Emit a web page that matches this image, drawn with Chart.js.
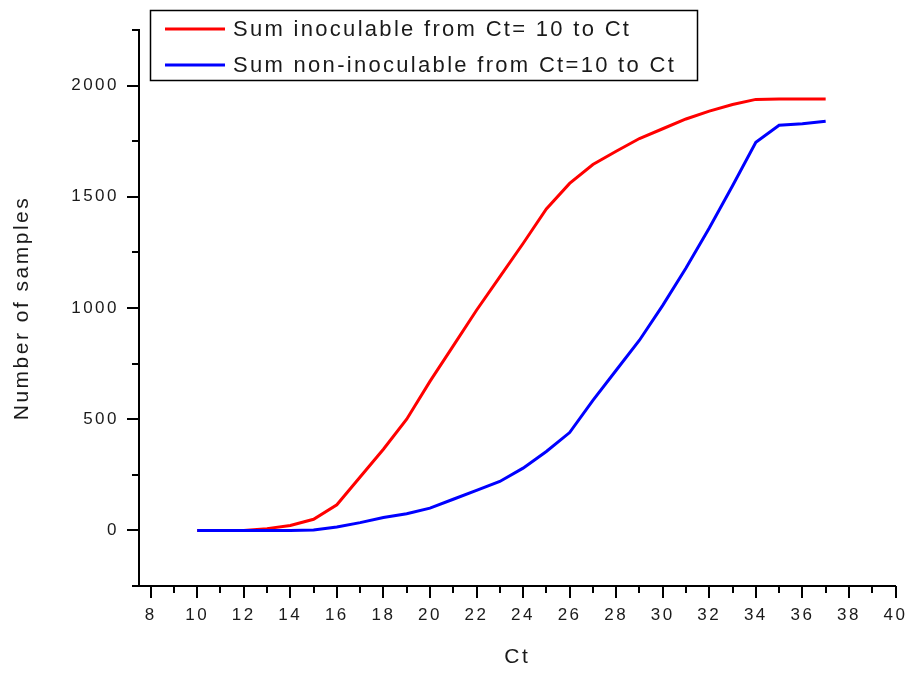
<!DOCTYPE html>
<html>
<head>
<meta charset="utf-8">
<script src="https://cdn.jsdelivr.net/npm/chart.js@4.4.1/dist/chart.umd.min.js"></script>
<style>
  html, body { margin: 0; padding: 0; background: #fff; }
  canvas { display: block; }
</style>
</head>
<body>
<canvas id="c" width="905" height="673"></canvas>
<script>
// ---- data ----
const ct = [10,11,12,13,14,15,16,17,18,19,20,21,22,23,24,25,26,27,28,29,30,31,32,33,34,35,36,37];
const inoculable = [0,0,0,8,22,50,115,240,365,500,670,830,990,1140,1290,1445,1560,1645,1705,1762,1806,1850,1885,1915,1938,1940,1940,1940];
const nonInoculable = [0,0,0,0,0,2,15,35,58,75,100,140,180,220,280,355,440,585,720,855,1012,1180,1360,1550,1745,1822,1828,1840];
const seriesLabels = ['Sum inoculable from Ct= 10 to Ct', 'Sum non-inoculable from Ct=10 to Ct'];
const seriesColors = ['#ff0000', '#0000ff'];
const xTitle = 'Ct';
const yTitle = 'Number of samples';

const FONT = '"Liberation Sans", Arial, sans-serif';
const TEXT = '#1a1a1a';

function toXY(xs, ys) { return xs.map((x, i) => ({ x: x, y: ys[i] })); }

const spacingPlugin = {
  id: 'spacing',
  beforeLayout(chart) { chart.ctx.letterSpacing = '2.5px'; },
  beforeDraw(chart) { chart.ctx.letterSpacing = '2.5px'; }
};

const tickPlugin = {
  id: 'ticksMarks',
  afterDraw(chart) {
    const ctx = chart.ctx;
    const xs = chart.scales.x, ys = chart.scales.y;
    const ca = chart.chartArea;
    ctx.save();
    ctx.strokeStyle = '#000';
    ctx.lineWidth = 2;
    ctx.beginPath();
    xs.ticks.forEach(t => {
      const px = Math.round(xs.getPixelForValue(t.value));
      const major = t.value % 2 === 0;
      ctx.moveTo(px, ca.bottom);
      ctx.lineTo(px, ca.bottom + (major ? 12 : 7));
    });
    ys.ticks.forEach(t => {
      const py = Math.round(ys.getPixelForValue(t.value));
      const major = t.value % 500 === 0;
      ctx.moveTo(ca.left, py);
      ctx.lineTo(ca.left - (major ? 12 : 7), py);
    });
    ctx.stroke();
    ctx.restore();
  }
};

const legendPlugin = {
  id: 'boxLegend',
  afterDraw(chart) {
    const ctx = chart.ctx;
    const bx = 150.5, by = 10.5, bw = 547, bh = 70;
    ctx.save();
    ctx.letterSpacing = '2.3px';
    ctx.fillStyle = '#fff';
    ctx.fillRect(bx, by, bw, bh);
    ctx.strokeStyle = '#000';
    ctx.lineWidth = 1.5;
    ctx.strokeRect(bx, by, bw, bh);
    const rows = [29, 65];
    chart.data.datasets.forEach((ds, i) => {
      const y = rows[i];
      ctx.strokeStyle = ds.borderColor;
      ctx.lineWidth = 3;
      ctx.beginPath();
      ctx.moveTo(165, y);
      ctx.lineTo(225, y);
      ctx.stroke();
      ctx.fillStyle = TEXT;
      ctx.font = '22px ' + FONT;
      ctx.textBaseline = 'middle';
      ctx.textAlign = 'left';
      ctx.fillText(ds.label, 233, y + 1);
    });
    ctx.restore();
  }
};

new Chart(document.getElementById('c'), {
  type: 'line',
  data: {
    datasets: [
      { label: seriesLabels[0], data: toXY(ct, inoculable), borderColor: seriesColors[0], backgroundColor: seriesColors[0],
        borderWidth: 3, pointRadius: 0, tension: 0, order: 1 },
      { label: seriesLabels[1], data: toXY(ct, nonInoculable), borderColor: seriesColors[1], backgroundColor: seriesColors[1],
        borderWidth: 3, pointRadius: 0, tension: 0, order: 0 }
    ]
  },
  options: {
    responsive: false,
    animation: false,
    devicePixelRatio: 1,
    layout: { padding: { left: 0, right: 9.5, top: 30, bottom: 0 } },
    plugins: { legend: { display: false }, tooltip: { enabled: false }, title: { display: false } },
    scales: {
      x: {
        type: 'linear',
        min: 7.5, max: 40,
        grid: { display: false, drawTicks: false },
        border: { display: true, color: '#000', width: 2 },
        ticks: {
          stepSize: 1, includeBounds: false, autoSkip: false, maxRotation: 0,
          padding: 19, color: TEXT, font: { family: FONT, size: 17 },
          callback: v => (v % 2 === 0 ? String(v) : '')
        },
        title: { display: true, text: xTitle, color: TEXT, font: { family: FONT, size: 21 }, padding: { top: 0, bottom: 3 } },
        afterFit: s => { s.height = 87; s.paddingLeft = 0; s.paddingRight = 0; }
      },
      y: {
        type: 'linear',
        min: -250, max: 2250,
        grid: { display: false, drawTicks: false },
        border: { display: true, color: '#000', width: 2 },
        ticks: {
          stepSize: 250, includeBounds: false, autoSkip: false,
          padding: 20, color: TEXT, font: { family: FONT, size: 17 },
          callback: v => (v % 500 === 0 ? String(v) : '')
        },
        title: { display: true, text: yTitle, color: TEXT, font: { family: FONT, size: 21 }, padding: { top: 10, bottom: 0 } },
        afterFit: s => { s.width = 139; s.paddingTop = 0; s.paddingBottom = 0; }
      }
    }
  },
  plugins: [spacingPlugin, tickPlugin, legendPlugin]
});
</script>
</body>
</html>
